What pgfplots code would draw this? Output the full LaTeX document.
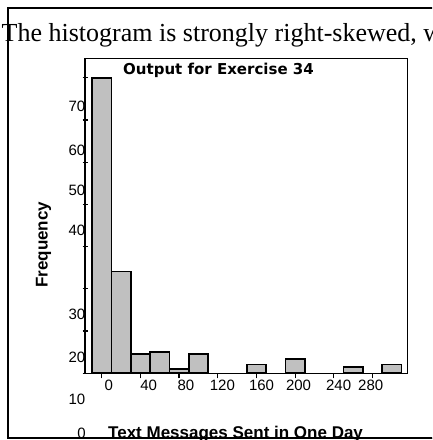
\documentclass[border=0pt]{standalone}
\usepackage{pgfplots}
\pgfplotsset{compat=1.18}
\usepackage{fontspec}
\setmainfont{Liberation Sans}
\newfontfamily\timesfont{Liberation Serif}
\newfontfamily\dejafont{DejaVu Sans}
\definecolor{barfill}{RGB}{192,192,192}
\begin{document}
\begin{tikzpicture}
\useasboundingbox (0pt,0pt) rectangle (432pt,-440pt);
\clip (0pt,0pt) rectangle (432pt,-440pt);
\fill[white] (0pt,0pt) rectangle (432pt,-440pt);
% outer frame
\draw[line width=1.5pt] (440pt,-8pt) -- (8pt,-8pt) -- (8pt,-438pt) -- (440pt,-438pt);
% top sentence
\node[anchor=base west, inner sep=0pt, font=\timesfont\fontsize{26}{26}\selectfont] at (1.5pt,-41pt) {The histogram is strongly right-skewed, with};
\begin{axis}[
  at={(85pt,-373.3pt)}, anchor=south west,
  width=322.5pt, height=314.8pt, scale only axis,
  xmin=-17.3, xmax=316.2, ymin=0, ymax=74.55,
  axis line style={line width=1.6pt},
  xtick={0,40,...,280}, xticklabels={},
  ytick={0,10,...,70}, yticklabels={},
  xtick pos=bottom, ytick pos=left,
  xtick align=outside, ytick align=center,
  major tick length=5pt,
  tick style={black, line width=1.2pt},
  extra x ticks={7.3,48.6,87.1,124.8,165.3,203.5,245.0,278.2},
  extra x tick labels={0,40,80,120,160,200,240,280},
  extra x tick style={major tick length=0pt},
  xticklabel style={anchor=north, inner sep=0pt, yshift=-6.7pt, font=\fontsize{15}{15}\selectfont},
  clip=false,
]
\addplot[ybar, bar width=20, fill=barfill, draw=black, line width=1.8pt]
  coordinates {(0,70) (20,24.1) (40,4.5) (60,5.1) (80,1) (100,4.6) (160,2.1) (200,3.3) (260,1.4) (300,2.1)};
\end{axis}
% y tick labels (as printed, offset from the ticks)
\begin{scope}[every node/.style={anchor=east, inner sep=0pt, font=\fontsize{15}{15}\selectfont}]
\node at (85.5pt,-106.7pt) {70};
\node at (85.5pt,-150pt) {60};
\node at (85.5pt,-190.3pt) {50};
\node at (85.5pt,-230.5pt) {40};
\node at (85.5pt,-314.7pt) {30};
\node at (85.5pt,-357pt) {20};
\node at (85.5pt,-399pt) {10};
\node at (86pt,-433pt) {0};
\end{scope}
% title and axis labels
\node[anchor=base west, inner sep=0pt, font=\dejafont\bfseries\fontsize{15}{15}\selectfont] at (123pt,-74pt) {Output for Exercise 34};
\node[anchor=base west, inner sep=0pt, rotate=90, font=\bfseries\fontsize{17}{17}\selectfont] at (47.5pt,-288pt) {Frequency};
\node[anchor=base west, inner sep=0pt, font=\bfseries\fontsize{17}{17}\selectfont] at (108pt,-438pt) {Text Messages Sent in One Day};
\draw[line width=1.5pt] (8pt,-438.5pt) -- (440pt,-438.5pt);
\end{tikzpicture}
\end{document}
